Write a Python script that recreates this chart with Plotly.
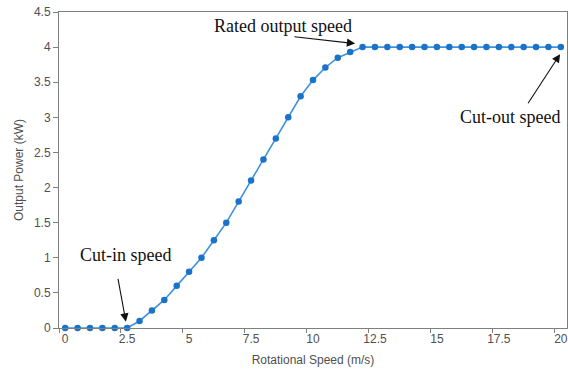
import plotly.graph_objects as go

speed = [i * 0.5 for i in range(41)]
power = [0, 0, 0, 0, 0, 0,
         0.1, 0.25, 0.4, 0.6, 0.8, 1.0, 1.25, 1.5, 1.8, 2.1, 2.4, 2.7, 3.0, 3.3,
         3.53, 3.71, 3.85, 3.93, 4.0,
         4, 4, 4, 4, 4, 4, 4, 4, 4, 4, 4, 4, 4, 4, 4, 4]
x_ticks = [0, 2.5, 5, 7.5, 10, 12.5, 15, 17.5, 20]
x_tick_labels = ["0", "2.5", "5", "7.5", "10", "12.5", "15", "17.5", "20"]
y_ticks = [0, 0.5, 1, 1.5, 2, 2.5, 3, 3.5, 4, 4.5]
y_tick_labels = ["0", "0.5", "1", "1.5", "2", "2.5", "3", "3.5", "4", "4.5"]

fig = go.Figure()
fig.add_trace(go.Scatter(
    x=speed, y=power, mode="lines+markers",
    line=dict(color="#3f92dc", width=1.6),
    marker=dict(color="#1a72c9", size=6.5),
    showlegend=False, cliponaxis=False,
))

axis_font = dict(family="Liberation Sans, Arial, sans-serif", size=12, color="#505050")
fig.update_xaxes(
    range=[-0.25, 20.25], tickmode="array", tickvals=x_ticks, ticktext=x_tick_labels,
    ticks="", showline=True, linecolor="#7f7f7f", linewidth=1, mirror=True,
    showgrid=False, zeroline=False, tickfont=axis_font,
    minor=dict(ticks="outside", ticklen=4, tickcolor="#7f7f7f", tick0=-0.25, dtick=2.5, showgrid=False),
    title=dict(text="Rotational Speed (m/s)", font=axis_font, standoff=10),
)
fig.update_yaxes(
    range=[0, 4.5], tickmode="array", tickvals=y_ticks, ticktext=y_tick_labels,
    ticks="outside", ticklen=5, tickcolor="#7f7f7f",
    showline=True, linecolor="#7f7f7f", linewidth=1, mirror=True,
    showgrid=False, zeroline=False, tickfont=axis_font,
    title=dict(text="Output Power (kW)", font=axis_font, standoff=7),
)

serif = dict(family="Liberation Serif, Times New Roman, serif", size=18, color="#111111")
texts = [("Cut-in speed", 2.47, 1.044), ("Rated output speed", 8.79, 4.30), ("Cut-out speed", 17.95, 3.01)]
for t, x, y in texts:
    fig.add_annotation(x=x, y=y, text=t, showarrow=False, font=serif)
arrows = [((2.12, 0.72), (2.45, 0.09)), ((9.19, 4.15), (11.70, 4.05)), ((18.64, 3.18), (19.97, 3.90))]
for (tx, ty), (hx, hy) in arrows:
    fig.add_annotation(x=hx, y=hy, ax=tx, ay=ty, axref="x", ayref="y", text="",
                       showarrow=True, arrowhead=2, arrowsize=1.5, arrowwidth=1.1, arrowcolor="#111111")

fig.update_layout(
    width=568, height=370, margin=dict(l=59, r=1, t=12, b=42),
    plot_bgcolor="white", paper_bgcolor="white",
)
fig.write_html("out.html")
